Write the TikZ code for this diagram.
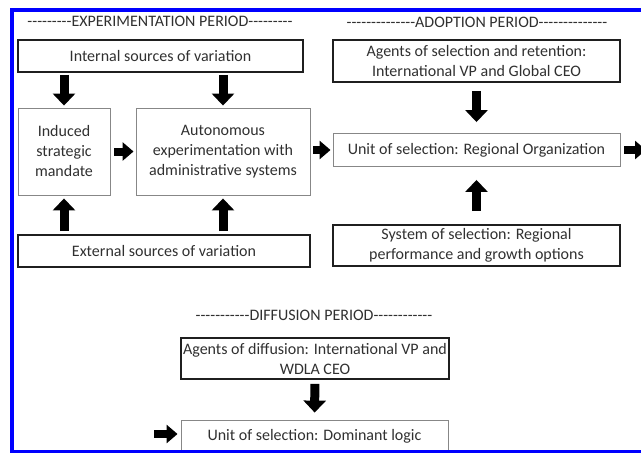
\documentclass[tikz,border=0pt]{standalone}
\usepackage{fontspec}
\setmainfont{Carlito}
\usetikzlibrary{arrows.meta,positioning}
\definecolor{frameblue}{RGB}{0,0,255}
\definecolor{inkgray}{RGB}{48,48,48}
\definecolor{edgegray}{RGB}{135,135,135}
\newcommand{\dashrun}[1]{\foreach \k in {1,...,#1}{\mbox{-}}}

\begin{document}
\begin{tikzpicture}[x=1pt,y=-1pt,
  every node/.style={text=inkgray,font=\fontsize{16}{20}\selectfont},
  heavybox/.style={draw=black!88,line width=1.8pt,align=center,inner sep=2pt},
  lightbox/.style={draw=edgegray,line width=0.9pt,align=center,inner sep=2pt},
  periodtitle/.style={inner sep=0pt},
  vblock/.style={line width=9pt,-{Triangle[length=12pt,width=22pt]}},
  hblock/.style={line width=8pt,-{Triangle[length=11pt,width=18pt]}}
]
\useasboundingbox (0,0) rectangle (641,453);

\node[periodtitle] (exptitle) at (160,21) {\dashrun{9}EXPERIMENTATION PERIOD\dashrun{9}};
\node[heavybox,minimum width=285,minimum height=32] (internal) at (160.5,56) {Internal sources of variation};
\node[lightbox,minimum width=92,minimum height=87] (induced) at (64,151.5) {Induced\\strategic\\mandate};
\node[lightbox,minimum width=174,minimum height=87] (autonomous) at (223,151.5) {Autonomous\\experimentation with\\administrative systems};
\node[heavybox,minimum width=292,minimum height=32] (external) at (164,251) {External sources of variation};

\node[periodtitle] (adopttitle) at (477,22) {\dashrun{14}ADOPTION PERIOD\dashrun{14}};
\node[heavybox,minimum width=287,minimum height=42] (selagents) at (476.5,61) {Agents of selection and retention:\\International VP and Global CEO};
\node[lightbox,minimum width=287,minimum height=33] (regional) at (476.5,150) {Unit of selection: Regional Organization};
\node[heavybox,minimum width=287,minimum height=41] (selsystem) at (476.5,245.5) {System of selection: Regional\\performance and growth options};

\node[periodtitle] (difftitle) at (314,315) {\dashrun{11}DIFFUSION PERIOD\dashrun{12}};
\node[heavybox,minimum width=266,minimum height=41] (diffagents) at (315,358.5) {Agents of diffusion: International VP and\\WDLA CEO};
\node[lightbox,minimum width=267,minimum height=32] (dominant) at (314.5,436) {Unit of selection: Dominant logic};

\coordinate (regout) at (646,150);
\coordinate (domin) at (154,434);

\draw[vblock,shorten <=2pt,shorten >=2pt] (internal.south -| induced) -- (induced.north);
\draw[vblock,shorten <=2pt,shorten >=2pt] (internal.south -| autonomous) -- (autonomous.north);
\draw[vblock,shorten <=3pt,shorten >=3pt] (external.north -| induced) -- (induced.south);
\draw[vblock,shorten <=3pt,shorten >=3pt] (external.north -| autonomous) -- (autonomous.south);
\draw[hblock,shorten <=4pt,shorten >=2pt] (induced) -- (autonomous);
\draw[hblock,shorten <=3pt,shorten >=2pt] (autonomous.east |- regional) -- (regional.west);
\draw[hblock,shorten <=4pt] (regional) -- (regout);
\draw[vblock,shorten <=8pt,shorten >=11pt] (selagents) -- (regional);
\draw[vblock,shorten <=13pt,shorten >=13pt] (selsystem) -- (regional);
\draw[vblock,shorten <=4pt,shorten >=7pt] (diffagents) -- (dominant);
\draw[hblock,shorten >=3pt] (domin) -- (dominant.west |- domin);

\draw[frameblue,line width=4pt] (11.7,9.5) rectangle (700,451.5);
\end{tikzpicture}
\end{document}
